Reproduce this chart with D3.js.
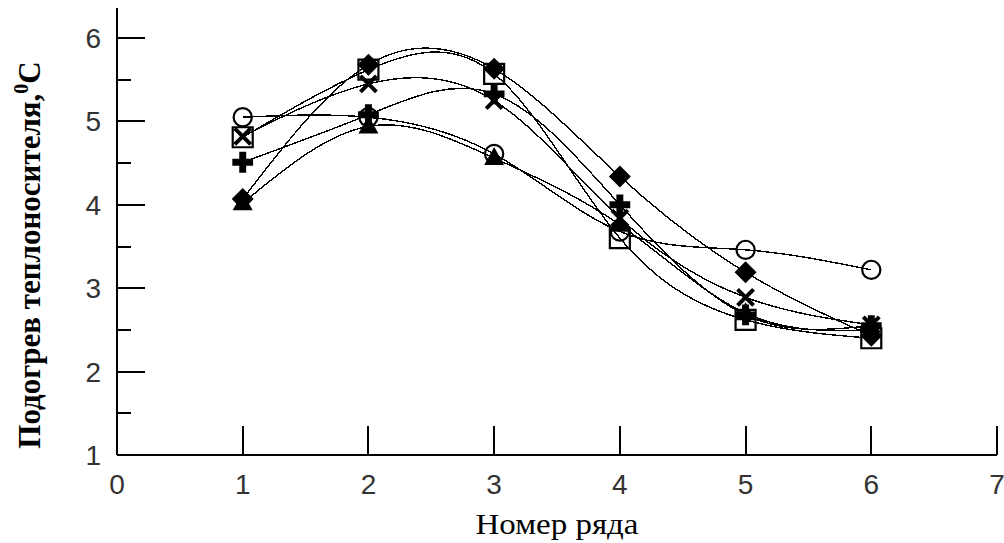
<!DOCTYPE html>
<html>
<head>
<meta charset="utf-8">
<script src="https://cdn.jsdelivr.net/npm/d3@7"></script>
<style>
  html, body { margin: 0; padding: 0; background: #fff; }
  svg { display: block; }
</style>
</head>
<body>
<svg id="chart" width="1004" height="543"></svg>
<script>
// Row numbers along the x axis
const rows = [1, 2, 3, 4, 5, 6];

// Coolant heating (°C) per row, one array per measurement series
const circleSeries   = [5.05, 5.05, 4.61, 3.68, 3.46, 3.22];
const squareSeries   = [4.81, 5.62, 5.57, 3.60, 2.62, 2.40];
const crossXSeries   = [4.82, 5.45, 5.25, 3.84, 2.89, 2.56];
const plusSeries     = [4.51, 5.08, 5.33, 4.00, 2.68, 2.55];
const diamondSeries  = [4.07, 5.68, 5.63, 4.34, 3.19, 2.43];
const triangleSeries = [4.02, 4.94, 4.56, 3.76, 2.70, 2.50];

// Axis tick values
const xTicks = [0, 1, 2, 3, 4, 5, 6, 7];
const yTicks = [1, 2, 3, 4, 5, 6];
const yMinorTicks = [1.5, 2.5, 3.5, 4.5, 5.5];

const series = [
  { name: "circle",   values: circleSeries },
  { name: "square",   values: squareSeries },
  { name: "x",        values: crossXSeries },
  { name: "plus",     values: plusSeries },
  { name: "diamond",  values: diamondSeries },
  { name: "triangle", values: triangleSeries }
];

const svg = d3.select("#chart");

const x = d3.scaleLinear().domain([0, 7]).range([117, 997]);
const y = d3.scaleLinear().domain([1, 6]).range([455, 38]);
const yTop = 6.36;

// Axes
const axisG = svg.append("g").attr("stroke", "#000").attr("stroke-width", 2)
  .attr("shape-rendering", "crispEdges");
axisG.append("line").attr("x1", x(0)).attr("x2", x(0)).attr("y1", y(yTop)).attr("y2", y(1));
axisG.append("line").attr("x1", x(0)).attr("x2", x(7)).attr("y1", y(1)).attr("y2", y(1));

// y ticks point inward
axisG.selectAll(".ymaj").data(yTicks.filter(d => d > 1)).enter().append("line")
  .attr("x1", x(0)).attr("x2", x(0) + 28).attr("y1", d => y(d)).attr("y2", d => y(d));
axisG.selectAll(".ymin").data(yMinorTicks).enter().append("line")
  .attr("x1", x(0)).attr("x2", x(0) + 14).attr("y1", d => y(d)).attr("y2", d => y(d));
// x ticks point up
axisG.selectAll(".xmaj").data(xTicks.filter(d => d > 0)).enter().append("line")
  .attr("x1", d => x(d)).attr("x2", d => x(d)).attr("y1", y(1)).attr("y2", y(1) - 29);

// Tick labels
const tickFont = "'Liberation Sans', Arial, sans-serif";
svg.append("g").selectAll("text").data(yTicks).enter().append("text")
  .attr("x", 101).attr("y", d => y(d)).attr("dy", "0.36em")
  .attr("text-anchor", "end").attr("font-family", tickFont).attr("font-size", 28)
  .attr("fill", "#333").text(d => d);
svg.append("g").selectAll("text").data(xTicks).enter().append("text")
  .attr("x", d => x(d)).attr("y", 484).attr("dy", "0.36em")
  .attr("text-anchor", "middle").attr("font-family", tickFont).attr("font-size", 28)
  .attr("fill", "#333").text(d => d);

// Axis titles
const serif = "'Liberation Serif', 'Times New Roman', serif";
svg.append("text")
  .attr("x", 557).attr("y", 534)
  .attr("text-anchor", "middle").attr("font-family", serif).attr("font-size", 30)
  .attr("textLength", 163).attr("lengthAdjust", "spacingAndGlyphs")
  .text("Номер ряда");

const yTitle = svg.append("text")
  .attr("transform", "translate(40,255) rotate(-90)")
  .attr("text-anchor", "middle").attr("font-family", serif).attr("font-size", 31)
  .attr("font-weight", "bold");
yTitle.append("tspan").text("Подогрев теплоносителя,");
yTitle.append("tspan").attr("font-size", 20).attr("dy", "-0.6em").text("0");
yTitle.append("tspan").attr("dy", "0.4em").text("С");

// Smoothed curves through each series
const line = d3.line()
  .x((d, i) => x(rows[i]))
  .y(d => y(d))
  .curve(d3.curveNatural);

svg.append("g").selectAll("path").data(series).enter().append("path")
  .attr("d", s => line(s.values))
  .attr("fill", "none").attr("stroke", "#000").attr("stroke-width", 1.4)
  .attr("shape-rendering", "crispEdges");

// Marker shapes
const markerPaths = {
  circle:   () => d3.symbol(d3.symbolCircle, 260)(),
  square:   () => "M-10,-10H10V10H-10Z",
  x:        () => "M-8,-8L8,8M8,-8L-8,8",
  plus:     () => d3.symbol(d3.symbolCross, 240)(),
  diamond:  () => "M0,-11L11,0L0,11L-11,0Z",
  triangle: () => "M0,-11L10,7L-10,7Z"
};
const markerStyle = {
  circle:   { fill: "none", stroke: "#000", sw: 2.2 },
  square:   { fill: "none", stroke: "#000", sw: 2.2 },
  x:        { fill: "none", stroke: "#000", sw: 4 },
  plus:     { fill: "#000", stroke: "none", sw: 0 },
  diamond:  { fill: "#000", stroke: "none", sw: 0 },
  triangle: { fill: "#000", stroke: "none", sw: 0 }
};

series.forEach(s => {
  const st = markerStyle[s.name];
  svg.append("g").selectAll("path").data(s.values).enter().append("path")
    .attr("transform", (d, i) => `translate(${x(rows[i])},${y(d)})`)
    .attr("d", markerPaths[s.name]())
    .attr("fill", st.fill).attr("stroke", st.stroke).attr("stroke-width", st.sw);
});
</script>
</body>
</html>
